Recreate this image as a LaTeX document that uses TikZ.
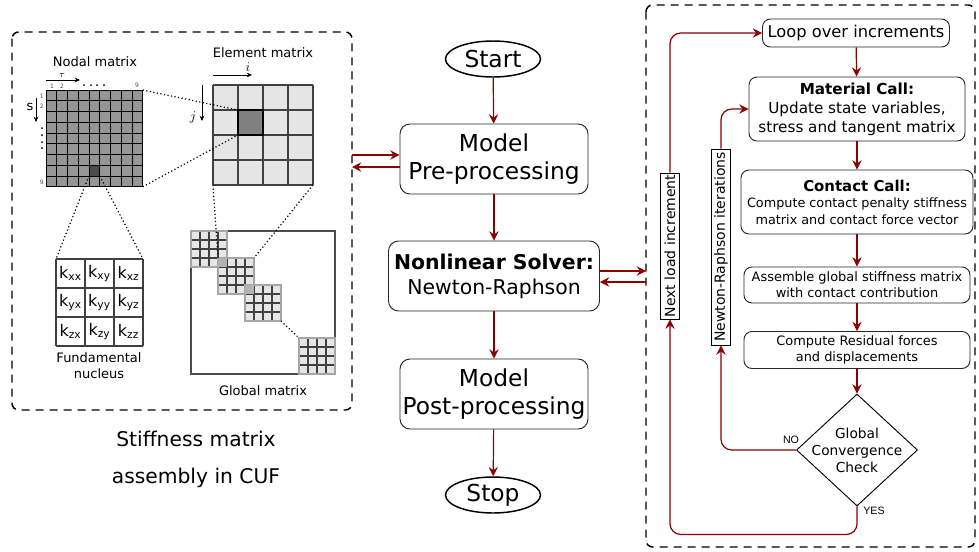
\documentclass[tikz,border=0pt]{standalone}
\usepackage{fontspec}
\setmainfont{DejaVu Sans}
\newfontfamily\yesnofont{Liberation Sans}
\usetikzlibrary{arrows.meta,shapes.geometric}
\definecolor{flowred}{RGB}{139,0,0}
\definecolor{nodalgray}{RGB}{150,150,150}

\begin{document}
\begin{tikzpicture}[x=0.75pt,y=0.75pt,yscale=-1,xscale=1,
  flow/.style={draw=flowred,line width=0.9pt,-{Stealth[length=7pt,width=7pt,inset=2.5pt]}},
  pointer/.style={line width=0.6pt,-{Stealth[length=4pt,width=3.5pt]}},
  zoomline/.style={line width=0.9pt,dash pattern=on 0.9pt off 1.8pt},
  panel/.style={line width=1.1pt,dash pattern=on 6pt off 4.5pt,rounded corners=5pt},
  midbox/.style={draw=black!85,line width=0.7pt,rounded corners=7.5pt,align=center,inner sep=0pt,minimum height=52.5pt},
  stepbox/.style={draw=black!85,line width=0.7pt,rounded corners=6pt,align=center,inner sep=0pt},
  term/.style={draw,ellipse,line width=1.1pt,inner sep=0pt,minimum width=71.25pt,minimum height=27pt,font=\fontsize{17.5}{21}\selectfont},
  sidebox/.style={draw,line width=0.7pt,rotate=90,inner sep=0pt,minimum height=14.25pt,font=\fontsize{10.5}{12}\selectfont},
  caption/.style={font=\fontsize{9.75}{12}\selectfont,align=center},
  tiny/.style={font=\fontsize{4.5}{5}\selectfont,text=black!70},
  kterm/.style={font=\fontsize{12}{14}\selectfont}
]
\useasboundingbox (0,0) rectangle (979,551);

%Shape: Dashed panel left
\draw[panel] (12,32) rectangle (352,410);
%Shape: Dashed panel right
\draw[panel] (646,5) rectangle (975,547);

%Shape: Nodal matrix
\fill[nodalgray] (46,90) rectangle (142.75,186.75);
\fill[black!70] (89,165.25) rectangle (99.75,176);
\foreach \k in {0,...,9} {
  \draw[line width=0.7pt] (46+\k*10.75,90) -- (46+\k*10.75,186.75);
  \draw[line width=0.7pt] (46,90+\k*10.75) -- (142.75,90+\k*10.75);
}
%Shape: Element matrix
\fill[black!10] (213,85) rectangle (313,185);
\foreach \k in {0,...,4} {
  \draw[black!75,line width=0.8pt] (213+\k*25,85) -- (213+\k*25,185);
  \draw[black!75,line width=0.8pt] (213,85+\k*25) -- (313,85+\k*25);
}
\draw[fill=black!50,line width=1.2pt] (238,110) rectangle (263,135);

%Shape: Fundamental nucleus
\foreach \k in {0,...,3} {
  \draw[black!75,line width=0.8pt] (56+\k*29,259) -- (56+\k*29,346);
  \draw[black!75,line width=0.8pt] (56,259+\k*29) -- (143,259+\k*29);
}
\foreach \r/\rn in {0/x,1/y,2/z} {
  \foreach \c/\cn in {0/x,1/y,2/z} {
    \node[kterm] (k\rn\cn) at (70.5+\c*29,273.5+\r*29) {k\textsubscript{\rn\cn}};
  }
}

%Shape: Global matrix
\draw[black!70,line width=0.8pt] (191,231) rectangle (335,374);
\foreach \bx/\by in {191/231,218/258,245/285,299/338} {
  \fill[black!10] (\bx,\by) rectangle ++(36,36);
  \foreach \k in {1,2,3} {
    \draw[black!75,line width=0.8pt] (\bx+\k*9,\by) -- ++(0,36);
    \draw[black!75,line width=0.8pt] (\bx,\by+\k*9) -- ++(36,0);
  }
  \draw[black!35,line width=0.8pt] (\bx,\by) rectangle ++(36,36);
}
\fill[black!30] (218,258) rectangle ++(9,9);
\fill[black!30] (245,285) rectangle ++(9,9);

%Straight Lines: zoom lines
\draw[zoomline] (142.75,90) -- (238,110);
\draw[zoomline] (142.75,186.75) -- (238,135);
\draw[zoomline] (89,176) -- (56,259);
\draw[zoomline] (99.75,176) -- (143,259);
\draw[zoomline] (213,185) -- (218,258);
\draw[zoomline] (313,185) -- (254,258);
\draw[zoomline] (281,321) -- (299,338);

%Straight Lines: index arrows
\draw[pointer] (46,80) -- (80,80);
\draw[pointer] (36,98) -- (36,122);
\draw[pointer] (213,75) -- (252,75);
\draw[pointer] (202,85) -- (202,121);

% Text Node
\node[caption] (nodaltitle) at (95,62) {Nodal matrix};
\node[caption] (elemtitle) at (263,53) {Element matrix};
\node[caption] (nuctitle) at (99,366) {Fundamental\\nucleus};
\node[caption] (globtitle) at (263,391) {Global matrix};
\node[inner sep=0pt] (tau) at (62,75) {\fontsize{7}{8}\selectfont$\tau$};
\node (sidx) at (30,107) {\fontsize{9.75}{11}\selectfont s};
\node (iidx) at (248,67) {\fontsize{9.75}{11}\selectfont$i$};
\node (jidx) at (193,117) {\fontsize{9.75}{11}\selectfont$j$};
\node[tiny] (c1) at (52,86) {1};
\node[tiny] (c2) at (62,86) {2};
\node[tiny] (c9) at (137,85) {9};
\node[tiny] (r1) at (41.7,96) {1};
\node[tiny] (r2) at (41.7,106) {2};
\node[tiny] (r9) at (41.7,182) {9};
\foreach \xx in {84,91,97,104} \fill (\xx,85) circle (1);
\foreach \yy in {128,135,142,148} \fill (42,\yy) circle (1);
\node[align=center,font=\fontsize{15.2}{27.75}\selectfont] (cuftitle) at (196,459) {Stiffness matrix\\assembly in CUF};

% Middle flowchart
\node[term] (start) at (493,59) {Start};
\node[midbox,minimum width=141pt,font=\fontsize{17.5}{21}\selectfont] (pre) at (494,159) {Model\\Pre-processing};
\node[midbox,minimum width=158.25pt,font=\fontsize{15.3}{18.75}\selectfont] (solver) at (494,276) {\textbf{Nonlinear Solver:}\\Newton-Raphson};
\node[midbox,minimum width=141pt,font=\fontsize{17.5}{21}\selectfont] (post) at (494,394) {Model\\Post-processing};
\node[term] (stop) at (493,495) {Stop};

\draw[flow] (start) -- (pre);
\draw[flow] (pre) -- (solver);
\draw[flow] (solver) -- (post);
\draw[flow] (post) -- (stop);

\coordinate (lp1) at (352,155);
\coordinate (lp2) at (352,167);
\draw[flow] (lp1) -- (lp1 -| pre.west);
\draw[flow] (lp2 -| pre.west) -- (lp2);
\coordinate (rp1) at (646,271);
\coordinate (rp2) at (646,282);
\draw[flow] (rp1 -| solver.east) -- (rp1);
\draw[flow] (rp2) -- (rp2 -| solver.east);

% Right flowchart
\node[stepbox,minimum width=140.25pt,minimum height=21pt,font=\fontsize{12.2}{14}\selectfont] (loop) at (856,33) {Loop over increments};
\node[stepbox,minimum width=162pt,minimum height=48pt,font=\fontsize{11.4}{14.25}\selectfont] (mat) at (857,109) {\textbf{Material Call:}\\Update state variables,\\stress and tangent matrix};
\node[stepbox,minimum width=174pt,minimum height=48pt,font=\fontsize{9.6}{12.4}\selectfont] (contact) at (857,202) {{\fontsize{11.2}{13}\selectfont\textbf{Contact Call:}}\\Compute contact penalty stiffness\\matrix and contact force vector};
\node[stepbox,minimum width=169.5pt,minimum height=27pt,font=\fontsize{9.7}{12}\selectfont] (assemble) at (857,285) {Assemble global stiffness matrix\\with contact contribution};
\node[stepbox,minimum width=169.5pt,minimum height=27.75pt,font=\fontsize{9.7}{12}\selectfont] (residual) at (857,350) {Compute Residual forces\\and displacements};
\node[draw,diamond,line width=0.7pt,inner sep=0pt,minimum width=90.75pt,minimum height=84pt] (check) at (857,450) {};
\node[align=center,font=\fontsize{10.3}{12.75}\selectfont] (checktext) at (check) {Global\\Convergence\\Check};
\node[sidebox,minimum width=109.5pt] (nextload) at (670,246) {Next load increment};
\node[sidebox,minimum width=147pt] (nr) at (721,247) {Newton-Raphson iterations};

\draw[flow] (loop) -- (mat);
\draw[flow] (mat) -- (contact);
\draw[flow] (contact) -- (assemble);
\draw[flow] (assemble) -- (residual);
\draw[flow] (residual) -- (check);
\draw[flow,rounded corners=8pt] (check.west) -| (nr.west);
\draw[flow,rounded corners=8pt] (nr.east) |- (mat.west);
\draw[flow,rounded corners=8pt] (check.south) -- ++(0,28) -| (nextload.west);
\draw[flow,rounded corners=8pt] (nextload.east) |- (loop.west);

\node[font=\yesnofont\fontsize{8}{9}\selectfont] (nolabel) at (791,440) {NO};
\node[font=\yesnofont\fontsize{8}{9}\selectfont] (yeslabel) at (874,511) {YES};

\end{tikzpicture}
\end{document}
